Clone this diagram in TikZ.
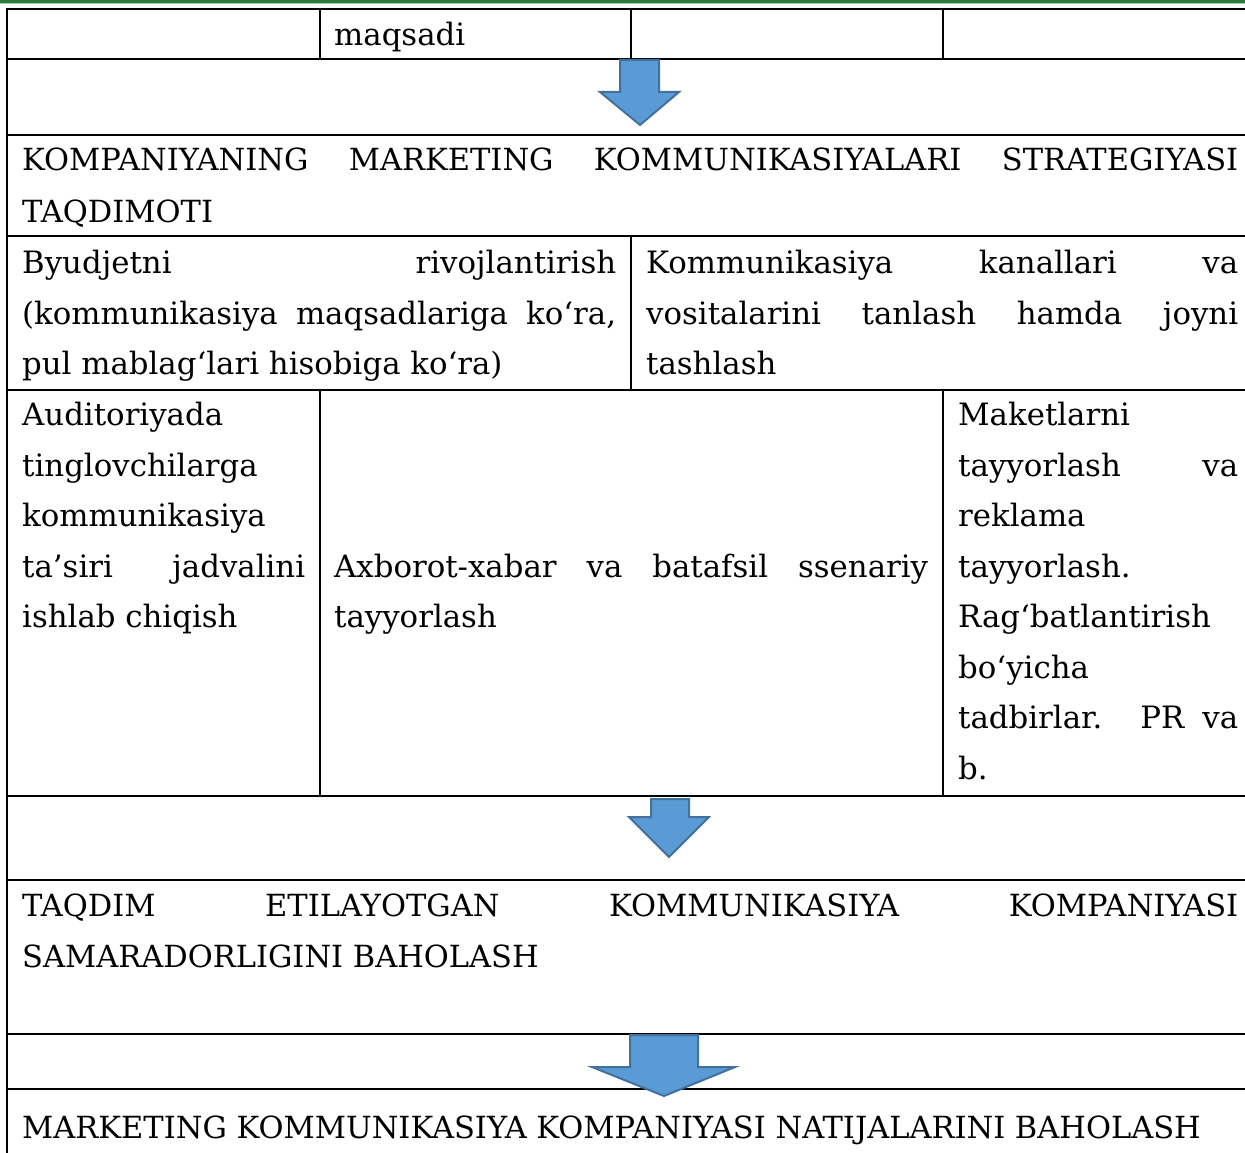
\documentclass[tikz,border=0pt]{standalone}
\usepackage{fontspec}
\setmainfont{DejaVu Serif}
\definecolor{arrfill}{HTML}{5B9BD5}
\definecolor{arrline}{HTML}{41719C}
\definecolor{topgreen}{HTML}{2A7A3A}
\tikzset{
  txt/.style={anchor=base west, inner sep=0pt, font=\fontsize{30.8}{36}\selectfont},
  captxt/.style={anchor=base west, inner sep=0pt, font=\fontsize{30.5}{36}\selectfont},
  rule/.style={line width=2.8pt, black},
  vrule/.style={line width=2.2pt, black},
  bigarrow/.style={fill=arrfill, draw=arrline, line width=2pt, line join=miter}
}
\newcommand{\jl}[2]{\makebox[#1pt][s]{#2}}
\begin{document}
\begin{tikzpicture}[x=1pt,y=-1pt]
\useasboundingbox (0,0) rectangle (1245,1153);
\fill[white] (0,0) rectangle (1245,1153);
% top green rule
\fill[topgreen] (0,0) rectangle (1245,3);
\fill[topgreen!40] (0,3) rectangle (1245,4.5);

% horizontal rules
\foreach \yy in {9,59,135,236,390,796,880,1034,1089}
  \draw[rule] (7,\yy) -- (1245,\yy);
% left border
\draw[vrule] (7,8) -- (7,1153);
% vertical inner rules
\draw[vrule] (320,9) -- (320,59);
\draw[vrule] (631,9) -- (631,59);
\draw[vrule] (943,9) -- (943,59);
\draw[vrule] (631,236) -- (631,390);
\draw[vrule] (320,390) -- (320,796);
\draw[vrule] (943,390) -- (943,796);

% texts
\node[txt] (t1) at (334,46) {maqsadi};

\node[captxt] (t2a) at (22,171) {\jl{1216}{KOMPANIYANING MARKETING KOMMUNIKASIYALARI STRATEGIYASI}};
\node[captxt] (t2b) at (22,222) {TAQDIMOTI};

\node[txt] (t3a) at (22,273) {\jl{594}{Byudjetni rivojlantirish}};
\node[txt] (t3b) at (22,324) {\jl{594}{(kommunikasiya maqsadlariga ko‘ra,}};
\node[txt] (t3c) at (22,374) {pul mablag‘lari hisobiga ko‘ra)};

\node[txt] (t4a) at (646,273) {\jl{592}{Kommunikasiya kanallari va}};
\node[txt] (t4b) at (646,324) {\jl{592}{vositalarini tanlash hamda joyni}};
\node[txt] (t4c) at (646,374) {tashlash};

\node[txt] (t5a) at (22,425) {Auditoriyada};
\node[txt] (t5b) at (22,476) {tinglovchilarga};
\node[txt] (t5c) at (22,526) {kommunikasiya};
\node[txt] (t5d) at (22,577) {\jl{283}{ta’siri jadvalini}};
\node[txt] (t5e) at (22,627) {ishlab chiqish};

\node[txt] (t6a) at (334,577) {\jl{594}{Axborot-xabar va batafsil ssenariy}};
\node[txt] (t6b) at (334,627) {tayyorlash};

\node[txt] (t7a) at (958,425) {Maketlarni};
\node[txt] (t7b) at (958,476) {\jl{280}{tayyorlash va}};
\node[txt] (t7c) at (958,526) {reklama};
\node[txt] (t7d) at (958,577) {tayyorlash.};
\node[txt] (t7e) at (958,627) {Rag‘batlantirish};
\node[txt] (t7f) at (958,678) {bo‘yicha};
\node[txt] (t7g) at (958,728) {\jl{280}{tadbirlar. PR va}};
\node[txt] (t7h) at (958,779) {b.};

\node[captxt] (t8a) at (22,916) {\jl{1216}{TAQDIM ETILAYOTGAN KOMMUNIKASIYA KOMPANIYASI}};
\node[captxt] (t8b) at (22,967) {SAMARADORLIGINI BAHOLASH};

\node[captxt] (t9) at (22,1138) {MARKETING KOMMUNIKASIYA KOMPANIYASI NATIJALARINI BAHOLASH};

% block arrows
\coordinate (a1) at (640,60);
\coordinate (a2) at (669,799);
\coordinate (a3) at (664,1035);
\draw[bigarrow] (620,60) -- (659,60) -- (659,92) -- (679,92) -- (640,125) -- (600,92) -- (620,92) -- cycle;
\draw[bigarrow] (651,799) -- (689,799) -- (689,817) -- (709,817) -- (669,857) -- (629,817) -- (651,817) -- cycle;
\draw[bigarrow] (630,1035) -- (698,1035) -- (698,1067) -- (735,1067) -- (664,1096) -- (592,1067) -- (630,1067) -- cycle;
\end{tikzpicture}
\end{document}
